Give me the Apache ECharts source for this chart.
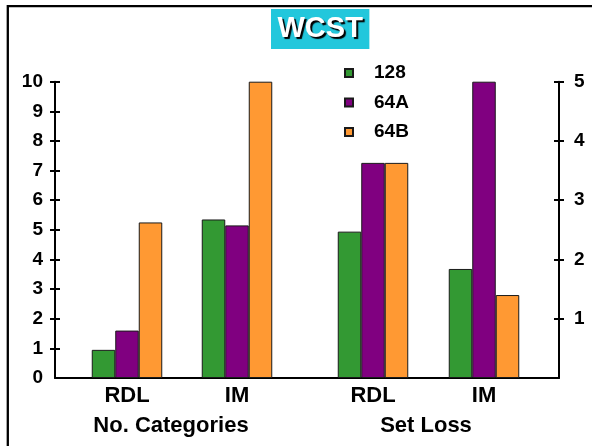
<!DOCTYPE html>
<html>
<head>
<meta charset="utf-8">
<script src="https://cdn.jsdelivr.net/npm/echarts@6/dist/echarts.min.js"></script>
<style>
  html, body { margin: 0; padding: 0; background: #fff; }
  #main { width: 592px; height: 446px; }
</style>
</head>
<body>
<div id="main"></div>
<script>
// Groups along the x axis and the test conditions inside each group
var categories = ['RDL', 'IM'];
var groupNames = ['No. Categories', 'Set Loss'];
var seriesNames = ['128', '64A', '64B'];
var seriesColors = ['#339933', '#800080', '#FF9933'];

// No. Categories (left axis, 0-10)
var categories128 = [0.95, 5.35];
var categories64A = [1.6, 5.15];
var categories64B = [5.25, 10];

// Set Loss (right axis, 0-5)
var setLoss128 = [2.47, 1.84];
var setLoss64A = [3.63, 5.0];
var setLoss64B = [3.63, 1.4];

// Axis tick values
var leftTicks = [1, 2, 3, 4, 5, 6, 7, 8, 9, 10];
var rightTicks = [1, 2, 3, 4, 5];

var FONT = "'Liberation Sans', Arial, Helvetica, sans-serif";
var PLOT_TOP = 81.7, PLOT_BOTTOM = 68;

var chart = echarts.init(document.getElementById('main'), null, { renderer: 'canvas' });

function barSeries(name, color, data, xIdx, yIdx) {
  return {
    type: 'bar', name: name, data: data,
    xAxisIndex: xIdx, yAxisIndex: yIdx,
    barWidth: 23.5, barGap: '0%',
    itemStyle: { color: color, borderColor: '#1a1a1a', borderWidth: 1 },
    emphasis: { disabled: true },
    animation: false
  };
}

function groupAxis(gridIndex, name, namePad) {
  return {
    gridIndex: gridIndex, type: 'category', data: categories,
    axisLine: { show: false }, axisTick: { show: false }, splitLine: { show: false },
    axisLabel: { color: '#000', fontFamily: FONT, fontWeight: 'bold', fontSize: 22, margin: 7 },
    name: name, nameLocation: 'middle', nameGap: 37,
    nameTextStyle: { color: '#000', fontFamily: FONT, fontWeight: 'bold', fontSize: 22, padding: namePad }
  };
}

function valueAxis(pos, max, ticks, inside, withLine) {
  return {
    gridIndex: 0, type: 'value', position: pos, min: 0, max: max, interval: 1,
    axisLine: { show: withLine, lineStyle: { color: '#000', width: 2 } },
    axisTick: { show: true, inside: inside, length: 5, customValues: ticks,
                lineStyle: { color: '#000', width: 2 } },
    axisLabel: withLine ? {
      show: true, color: '#000', fontFamily: FONT, fontWeight: 'bold', fontSize: 19,
      margin: pos === 'left' ? 12 : 15, showMinLabel: pos === 'left'
    } : { show: false },
    splitLine: { show: false }
  };
}

chart.setOption({
  animation: false,
  backgroundColor: '#fff',
  title: {
    text: 'WCST', left: 271, top: 9,
    backgroundColor: '#22C7DC',
    padding: [5, 6.5, 5, 6.5],
    textStyle: {
      color: '#fff', fontFamily: FONT, fontWeight: 'bold', fontSize: 29, lineHeight: 30,
      textShadowColor: '#000', textShadowOffsetX: 2, textShadowOffsetY: 2, textShadowBlur: 1
    }
  },
  legend: {
    data: seriesNames, orient: 'vertical', left: 339, top: 58.5,
    icon: 'rect', itemWidth: 8, itemHeight: 8, itemGap: 10.5,
    selectedMode: false,
    textStyle: { color: '#000', fontFamily: FONT, fontWeight: 'bold', fontSize: 19, lineHeight: 19,
                 padding: [0, 0, 0, 16] }
  },
  graphic: [{
    type: 'rect', silent: true, z: -10,
    shape: { x: 7.8, y: 6.2, width: 800, height: 800 },
    style: { fill: 'none', stroke: '#000', lineWidth: 2.3 }
  }],
  grid: [
    { left: 55, right: 33, top: PLOT_TOP, bottom: PLOT_BOTTOM },
    { left: 72, width: 220, top: PLOT_TOP, bottom: PLOT_BOTTOM },
    { left: 317.5, width: 222, top: PLOT_TOP, bottom: PLOT_BOTTOM }
  ],
  xAxis: [
    { gridIndex: 0, type: 'value', min: 0, max: 1,
      axisLine: { show: true, lineStyle: { color: '#000', width: 2 } },
      axisTick: { show: false }, axisLabel: { show: false }, splitLine: { show: false } },
    groupAxis(1, groupNames[0], [0, 22, 0, 0]),
    groupAxis(2, groupNames[1], [0, 5, 0, 0])
  ],
  yAxis: [
    valueAxis('left', 10, leftTicks, false, true),
    valueAxis('left', 10, leftTicks, true, false),
    valueAxis('right', 5, rightTicks, false, true),
    valueAxis('right', 5, rightTicks, true, false),
    { gridIndex: 1, type: 'value', min: 0, max: 10, show: false },
    { gridIndex: 2, type: 'value', min: 0, max: 5, show: false }
  ],
  series: [
    barSeries(seriesNames[0], seriesColors[0], categories128, 1, 4),
    barSeries(seriesNames[1], seriesColors[1], categories64A, 1, 4),
    barSeries(seriesNames[2], seriesColors[2], categories64B, 1, 4),
    barSeries(seriesNames[0], seriesColors[0], setLoss128, 2, 5),
    barSeries(seriesNames[1], seriesColors[1], setLoss64A, 2, 5),
    barSeries(seriesNames[2], seriesColors[2], setLoss64B, 2, 5)
  ]
});
</script>
</body>
</html>
